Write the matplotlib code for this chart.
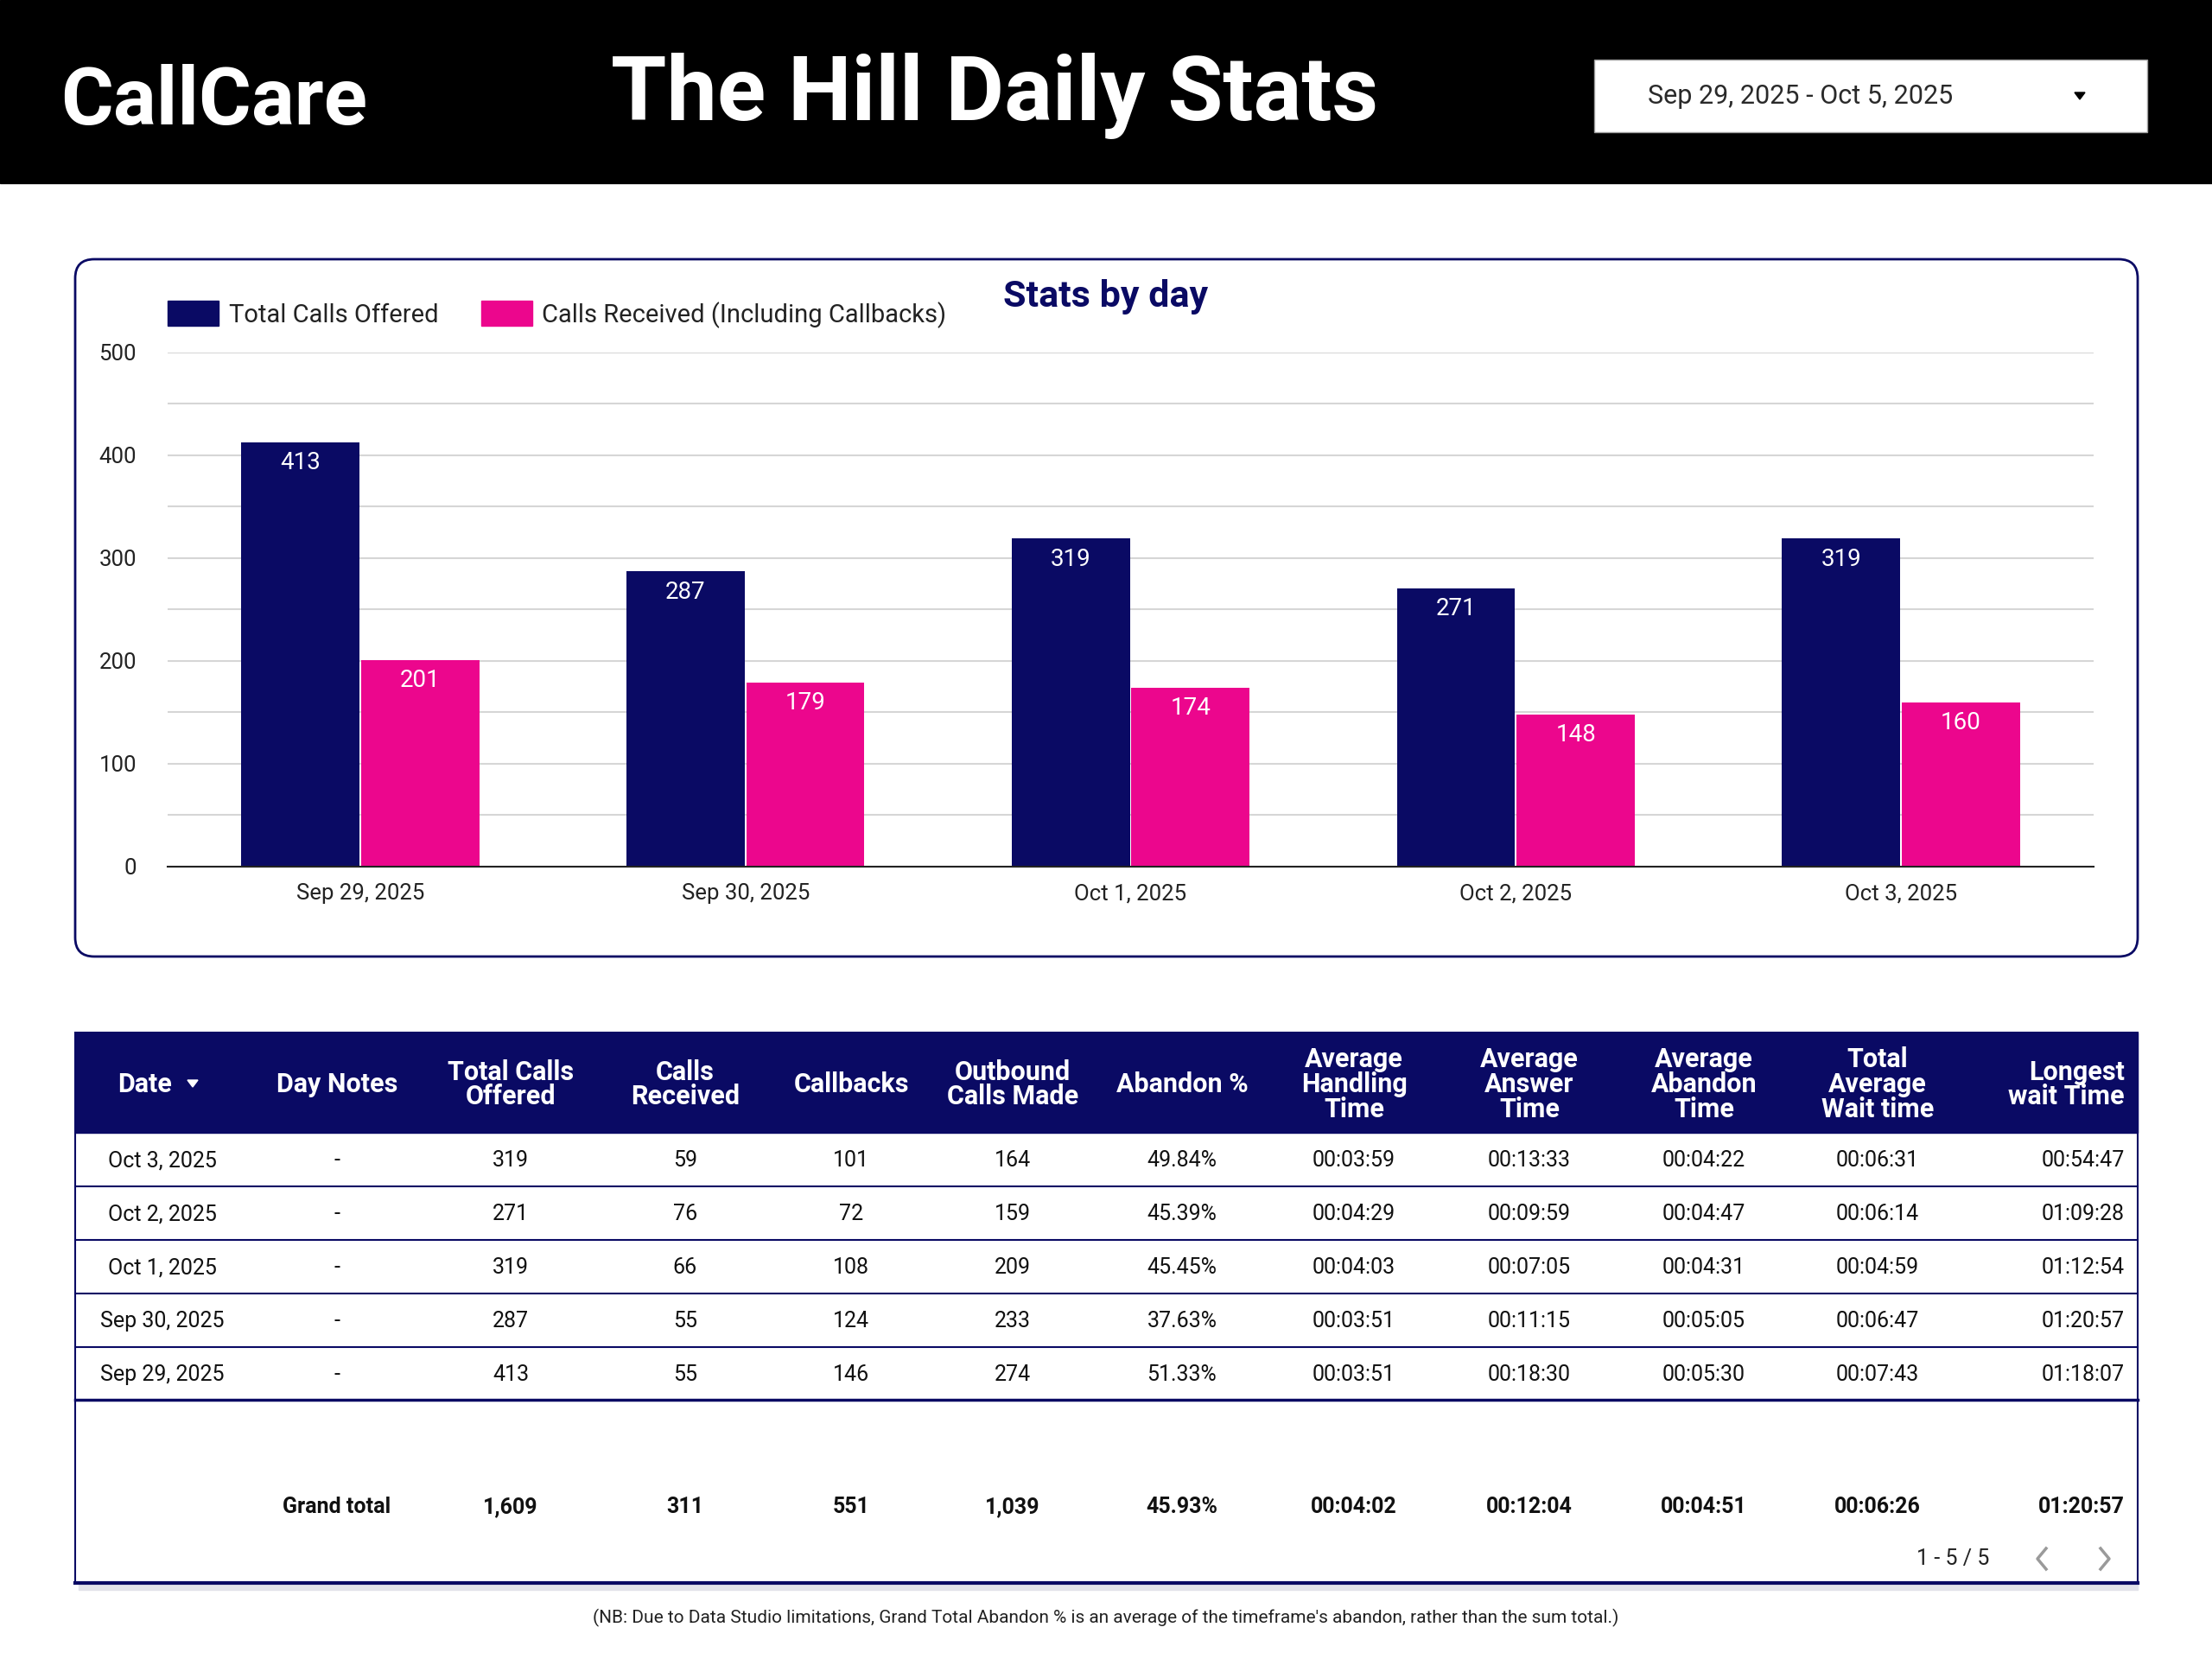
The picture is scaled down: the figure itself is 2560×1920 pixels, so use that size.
import matplotlib
matplotlib.use("Agg")
import matplotlib.pyplot as plt
from matplotlib.patches import Rectangle, FancyBboxPatch, Polygon
import numpy as np

plt.rcParams['font.family'] = ['Roboto', 'DejaVu Sans']

NAVY = "#0a0a64"
PINK = "#ec068d"

# chart data
dates = ["Sep 29, 2025", "Sep 30, 2025", "Oct 1, 2025", "Oct 2, 2025", "Oct 3, 2025"]
offered = [413, 287, 319, 271, 319]
received = [201, 179, 174, 148, 160]

# table data
headers = ["Date", "Day Notes", "Total Calls\nOffered", "Calls\nReceived", "Callbacks",
           "Outbound\nCalls Made", "Abandon %", "Average\nHandling\nTime", "Average\nAnswer\nTime",
           "Average\nAbandon\nTime", "Total\nAverage\nWait time", "Longest\nwait Time"]
table_dates = ["Oct 3, 2025", "Oct 2, 2025", "Oct 1, 2025", "Sep 30, 2025", "Sep 29, 2025"]
day_notes = ["-", "-", "-", "-", "-"]
calls_offered = ["319", "271", "319", "287", "413"]
calls_received = ["59", "76", "66", "55", "55"]
callbacks = ["101", "72", "108", "124", "146"]
outbound = ["164", "159", "209", "233", "274"]
abandon = ["49.84%", "45.39%", "45.45%", "37.63%", "51.33%"]
aht = ["00:03:59", "00:04:29", "00:04:03", "00:03:51", "00:03:51"]
aat = ["00:13:33", "00:09:59", "00:07:05", "00:11:15", "00:18:30"]
aabt = ["00:04:22", "00:04:47", "00:04:31", "00:05:05", "00:05:30"]
tawt = ["00:06:31", "00:06:14", "00:04:59", "00:06:47", "00:07:43"]
longest = ["00:54:47", "01:09:28", "01:12:54", "01:20:57", "01:18:07"]
totals = ["", "Grand total", "1,609", "311", "551", "1,039", "45.93%",
          "00:04:02", "00:12:04", "00:04:51", "00:06:26", "01:20:57"]

W, H = 2560, 1920
fig = plt.figure(figsize=(25.6, 19.2), dpi=100)
bg = fig.add_axes([0, 0, 1, 1])
bg.set_xlim(0, W)
bg.set_ylim(H, 0)
bg.axis("off")

# header band
bg.add_patch(Rectangle((0, 0), W, 212, color="black"))
bg.text(70, 144, "CallCare", color="white", fontsize=67, fontweight="bold", va="baseline")
bg.text(1151, 139, "The Hill Daily Stats", color="white", fontsize=75, fontweight="bold",
        ha="center", va="baseline")
bg.add_patch(Rectangle((1845, 69), 640, 84, facecolor="white", edgecolor="#9e9e9e", lw=1))
bg.text(1907, 112, "Sep 29, 2025 - Oct 5, 2025", color="#2a2a2a", fontsize=22, va="center")
bg.add_patch(Polygon([[2401, 107], [2413, 107], [2407, 115]], color="black"))

# chart panel
bg.add_patch(FancyBboxPatch((87, 300), 2387, 807, boxstyle="round,pad=0,rounding_size=22",
                            facecolor="white", edgecolor=NAVY, lw=2))
bg.text(1280, 344, "Stats by day", color=NAVY, fontsize=31, fontweight="bold",
        ha="center", va="center")
bg.add_patch(Rectangle((194, 348), 59, 29, color=NAVY))
bg.text(265, 365, "Total Calls Offered", fontsize=21, va="center", color="#222222")
bg.add_patch(Rectangle((557, 348), 59, 29, color=PINK))
bg.text(627, 365, "Calls Received (Including Callbacks)", fontsize=21, va="center", color="#222222")

ax = fig.add_axes([194 / W, 1 - 1003 / H, 2229 / W, (1003 - 408) / H])
x = np.arange(len(dates))
bw = 0.307
b1 = ax.bar(x - bw / 2 - 0.002, offered, bw, color=NAVY, zorder=3)
b2 = ax.bar(x + bw / 2 + 0.002, received, bw, color=PINK, zorder=3)
for bars in (b1, b2):
    for r in bars:
        ax.text(r.get_x() + r.get_width() / 2, r.get_height() - 20, str(int(r.get_height())),
                ha="center", va="center", color="white", fontsize=20, zorder=4)
ax.set_xlim(-0.5, len(dates) - 0.5)
ax.set_ylim(0, 500)
ax.set_yticks(range(0, 501, 100))
ax.set_yticks(range(50, 501, 100), minor=True)
ax.set_xticks(x)
ax.set_xticklabels(dates)
ax.tick_params(axis="both", length=0, labelsize=18.5, colors="#222222")
ax.tick_params(axis="y", pad=26)
ax.tick_params(axis="x", pad=14)
ax.tick_params(axis="y", which="minor", length=0)
ax.grid(axis="y", which="both", color="#d6d6d6", lw=1.5, zorder=0)
for s in ("top", "right", "left"):
    ax.spines[s].set_visible(False)
ax.spines["bottom"].set_color("#222222")
ax.spines["bottom"].set_linewidth(1.5)
ax.spines["bottom"].set_zorder(5)

# table
tx0, tx1 = 87, 2474
bg.add_patch(Rectangle((tx0 + 4, 1834), tx1 - tx0 - 4, 6, color="#e2e2ea", zorder=0))
bg.add_patch(Rectangle((tx0, 1195), tx1 - tx0, 637, facecolor="white", edgecolor=NAVY, lw=1.5))
bg.add_patch(Rectangle((tx0, 1195), tx1 - tx0, 116, color=NAVY))
bg.plot([tx0, tx1], [1832, 1832], color=NAVY, lw=3)

col_x = [188, 390, 591, 793, 985, 1172, 1368, 1567, 1770, 1972, 2173, 2459]
for i, h in enumerate(headers):
    if i == 0:
        bg.text(168, 1255, h, color="white", fontsize=22, fontweight="bold", ha="center", va="center")
        bg.add_patch(Polygon([[217, 1250], [229, 1250], [223, 1258]], color="white"))
    elif i == len(headers) - 1:
        bg.text(col_x[i], 1255, h, color="white", fontsize=22, fontweight="bold", ha="right",
                va="center", multialignment="right", linespacing=0.95)
    else:
        bg.text(col_x[i], 1255, h, color="white", fontsize=22, fontweight="bold", ha="center",
                va="center", linespacing=0.95)

columns = [table_dates, day_notes, calls_offered, calls_received, callbacks, outbound,
           abandon, aht, aat, aabt, tawt, longest]
row_y = [1343, 1405, 1467, 1529, 1591]
for r, y in enumerate(row_y):
    for c, col in enumerate(columns):
        ha = "right" if c == len(columns) - 1 else "center"
        bg.text(col_x[c], y, col[r], fontsize=18, ha=ha, va="center", color="#111111")
for yb in [1373, 1435, 1497, 1559]:
    bg.plot([tx0, tx1], [yb, yb], color=NAVY, lw=1.5)
bg.plot([tx0, tx1], [1620, 1620], color=NAVY, lw=2.5)

for c, t in enumerate(totals):
    ha = "right" if c == len(totals) - 1 else "center"
    bg.text(col_x[c], 1744, t, fontsize=18, fontweight="bold", ha=ha, va="center", color="#111111")

bg.text(2260, 1804, "1 - 5 / 5", fontsize=18, ha="center", va="center", color="#222222")
bg.plot([2368, 2358, 2368], [1792, 1804, 1816], color="#9a9a9a", lw=2.5)
bg.plot([2431, 2441, 2431], [1792, 1804, 1816], color="#9a9a9a", lw=2.5)

bg.text(1280, 1872, "(NB: Due to Data Studio limitations, Grand Total Abandon % is an average of the "
        "timeframe's abandon, rather than the sum total.)", fontsize=15, ha="center", va="center",
        color="#222222")

fig.savefig("out.png", dpi=100, facecolor="white")
